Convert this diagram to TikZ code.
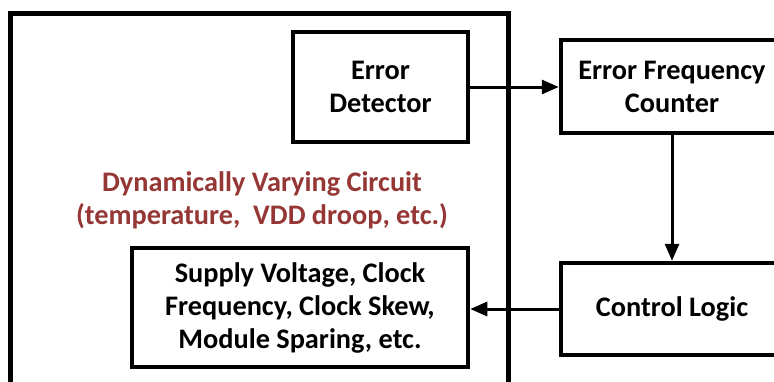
\documentclass[tikz,border=0pt]{standalone}
\usepackage{fontspec}
\setmainfont{Carlito}
\usetikzlibrary{arrows.meta}
\definecolor{darkred}{HTML}{953735}
\tikzset{
  blk/.style={draw=black, line width=4.5pt, fill=white, align=center, font=\fontsize{28.3}{33}\selectfont\bfseries, inner sep=0pt},
  conn/.style={line width=3pt, -{Triangle[length=17pt,width=14pt]}},
}
\begin{document}
\begin{tikzpicture}[x=1pt,y=-1pt]
\useasboundingbox (0,0) rectangle (774,381);
\clip (0,0) rectangle (774,381);
\fill[white] (0,0) rectangle (774,381);
\draw[line width=5pt] (10.5,400) -- (10.5,13) -- (508.5,13) -- (508.5,400);
\node[blk, minimum width=175pt, minimum height=110pt] (ed) at (380.5,87) {Error\\Detector};
\node[blk, minimum width=222pt, minimum height=93pt] (efc) at (672,86.5) {Error Frequency\\Counter};
\node[blk, minimum width=222pt, minimum height=92pt] (cl) at (672,309) {Control Logic};
\node[blk, minimum width=336pt, minimum height=119pt] (sup) at (300,307.5) {Supply Voltage, Clock\\Frequency, Clock Skew,\\Module Sparing, etc.};
\node[align=center, text=darkred, font=\fontsize{28.3}{33}\selectfont\bfseries] (dvc) at (262,200) {Dynamically Varying Circuit\\(temperature,~ VDD droop, etc.)};
\draw[conn] (ed.east) -- (ed.east -| efc.west);
\draw[conn] (efc.south) -- (cl.north);
\draw[conn] (cl.west) -- (cl.west -| sup.east);
\end{tikzpicture}
\end{document}
